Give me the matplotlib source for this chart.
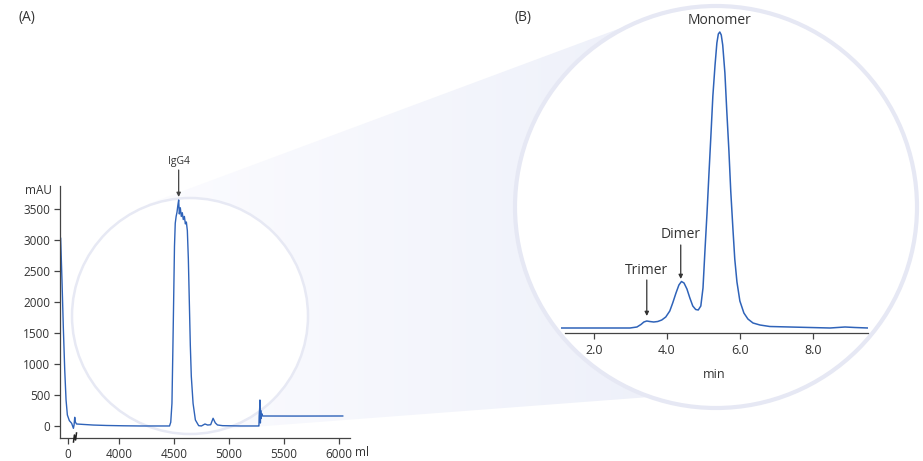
import numpy as np
import matplotlib
matplotlib.use("Agg")
import matplotlib.pyplot as plt
from matplotlib.patches import Circle, Polygon
from matplotlib.lines import Line2D

plt.rcParams['font.family'] = ['Open Sans', 'DejaVu Sans']

W, H = 923, 461
BLUE = '#2f63b9'
TXT = '#333333'

# ---- panel A: capture run (volume in ml, absorbance in mAU) ----
vol_a = [-67, -55, -43, -30, -18, -6, 12, 33, 49, 55, 61,
         3601, 3613, 3674, 3766, 3887, 4040, 4192, 4451,
         4459, 4470, 4481, 4489, 4496, 4504, 4511, 4519, 4527, 4534, 4542,
         4548, 4557, 4566, 4575, 4584, 4594, 4603, 4612, 4621, 4630, 4639,
         4648, 4657, 4673, 4694, 4724, 4749, 4781, 4806, 4833, 4855, 4875,
         4895, 4941, 5105, 5269, 5272, 5274, 5279, 5281, 5285, 5288, 5292,
         5297, 5306, 5600, 6034]
mau_a = [3027, 2355, 1602, 903, 419, 177, 86, 43, -38, 16, 140,
         70, 32, 25, 15, 8, 3, 0, 0,
         0, 60, 365, 1200, 1980, 2900, 3270, 3380, 3450, 3550, 3645,
         3420, 3520, 3380, 3440, 3330, 3380, 3260, 3290, 3150, 2700, 2000,
         1300, 800, 365, 97, 5, 0, 32, 15, 20, 124, 50,
         16, 5, 0, 0, 0, 160, 300, 419, 48, 250, 120,
         200, 161, 160, 161]
xticks_a = [0, 4000, 4500, 5000, 5500, 6000]
yticks_a = [0, 500, 1000, 1500, 2000, 2500, 3000, 3500]

# ---- panel B: analytical SEC (time in min) ----
t_b = [1.10, 2.16, 2.99, 3.18, 3.29, 3.37, 3.45, 3.53, 3.64, 3.75, 3.86,
       3.97, 4.08, 4.16, 4.25, 4.33, 4.40, 4.47, 4.55, 4.63, 4.71, 4.79,
       4.86, 4.93, 4.99, 5.04, 5.10, 5.15, 5.21, 5.26, 5.32, 5.37, 5.41,
       5.45, 5.49, 5.53, 5.59, 5.64, 5.70, 5.75, 5.81, 5.86, 5.92, 6.00,
       6.11, 6.22, 6.36, 6.55, 6.82, 7.37, 7.92, 8.47, 8.88, 9.15, 9.51]
sig_b = [0, 0, 0, 1, 3.5, 6, 7, 6.5, 6, 6.5, 8,
         11, 17, 25, 35, 43, 46.5, 45, 39, 30, 22, 18.5,
         18, 22, 40, 75, 115, 152, 195, 232, 263, 285, 294,
         296, 293, 283, 255, 218, 177, 137, 99, 69, 46, 27,
         15, 9, 5, 3, 1.5, 1, 0.5, 0, 1, 0.5, 0]
xticks_b = [2.0, 4.0, 6.0, 8.0]


def px(x, y):
    return x / W, 1 - y / H


fig = plt.figure(figsize=(W / 100, H / 100), dpi=100)

# background: zoom funnel and circles, in pixel coordinates
bg = fig.add_axes([0, 0, 1, 1], zorder=0)
bg.set_xlim(0, W)
bg.set_ylim(H, 0)
bg.axis('off')

funnel = Polygon([(148, 204), (645, 19), (716, 207), (716, 392), (199, 431)],
                 closed=True, fc='none', ec='none')
bg.add_patch(funnel)
c0 = np.array([252, 252, 255]) / 255
c1 = np.array([236, 239, 249]) / 255
g = np.linspace(0, 1, 256)
grad = (c0[None, :] * (1 - g[:, None]) + c1[None, :] * g[:, None])[None, :, :]
im = bg.imshow(grad, extent=[140, 720, H, 0], aspect='auto', zorder=1)
im.set_clip_path(funnel)
bg.add_patch(Circle((716, 207), 201, fc='white', ec='#e6e8f4', lw=3.0, zorder=2))
bg.add_patch(Circle((190, 316), 118, fc='white', ec='#e7e9f4', lw=1.8, zorder=2))
bg.set_xlim(0, W)
bg.set_ylim(H, 0)

# ---- axes A with a broken volume scale ----
BRK0, BRK1 = 64, 3600


def fwd(v):
    v = np.asarray(v, dtype=float)
    return np.where(v <= BRK0, v, np.where(v < BRK1, BRK0, v - (BRK1 - BRK0)))


def inv(p):
    p = np.asarray(p, dtype=float)
    return np.where(p <= BRK0, p, p + (BRK1 - BRK0))


axA = fig.add_axes([60 / W, (H - 438) / H, 290 / W, 252 / H], zorder=3)
axA.patch.set_alpha(0)
axA.set_xscale('function', functions=(fwd, inv))
axA.plot(vol_a, mau_a, color=BLUE, lw=1.0)
axA.set_xlim(-73, 6100)
axA.set_ylim(-194, 3871)
axA.set_xticks(xticks_a)
axA.set_xticklabels([str(v) for v in xticks_a])
axA.set_yticks(yticks_a)
for s in ['top', 'right']:
    axA.spines[s].set_visible(False)
for s in ['left', 'bottom']:
    axA.spines[s].set_color('#444444')
    axA.spines[s].set_linewidth(0.9)
axA.tick_params(colors='#444444', labelcolor=TXT, labelsize=8.5, length=4,
                width=0.9, pad=3)
axA.annotate('', xy=(4542, 3694), xytext=(4542, 4129), annotation_clip=False,
             arrowprops=dict(arrowstyle='-|>', color='#444444', lw=0.9,
                             mutation_scale=6, shrinkA=0, shrinkB=0))
axA.text(4542, 4274, 'IgG4', ha='center', va='center', fontsize=7.5,
         color=TXT, clip_on=False)

# break mark on the volume axis
zig = [(73.5, 442), (74.4, 435), (75.6, 440), (76.5, 433)]
fig.add_artist(Line2D([px(*p)[0] for p in zig], [px(*p)[1] for p in zig],
                      color='#222222', lw=1.1, transform=fig.transFigure, zorder=5))

fig.text(*px(52, 190), 'mAU', ha='right', va='center', fontsize=8.5, color=TXT)
fig.text(*px(355, 452), 'ml', ha='left', va='center', fontsize=8.5, color=TXT)

# ---- axes B ----
axB = fig.add_axes([561 / W, (H - 333) / H, 307 / W, 313 / H], zorder=3)
axB.patch.set_alpha(0)
axB.plot(t_b, sig_b, color=BLUE, lw=1.1)
axB.set_xlim(1.10, 9.51)
axB.set_ylim(-5, 308)
axB.set_xticks(xticks_b)
axB.set_xticklabels([f'{v:.1f}' for v in xticks_b])
axB.set_yticks([])
for s in ['top', 'right', 'left']:
    axB.spines[s].set_visible(False)
axB.spines['bottom'].set_bounds(1.205, 9.51)
axB.spines['bottom'].set_color('#444444')
axB.spines['bottom'].set_linewidth(0.9)
axB.tick_params(colors='#444444', labelcolor=TXT, labelsize=9, length=4,
                width=0.9, pad=4)
axB.set_xlabel('min', fontsize=9, color=TXT, labelpad=8)

axB.text(5.45, 307, 'Monomer', ha='center', va='center', fontsize=10,
         color=TXT, clip_on=False)
axB.text(4.38, 93, 'Dimer', ha='center', va='center', fontsize=10, color=TXT)
axB.text(3.45, 58, 'Trimer', ha='center', va='center', fontsize=10, color=TXT)
for x0, ytop, ytip in [(4.38, 83, 49), (3.45, 48, 12)]:
    axB.annotate('', xy=(x0, ytip), xytext=(x0, ytop),
                 arrowprops=dict(arrowstyle='-|>', color='#333333', lw=0.9,
                                 mutation_scale=6, shrinkA=0, shrinkB=0))

fig.text(*px(27, 18), '(A)', ha='center', va='center', fontsize=10, color=TXT)
fig.text(*px(523, 18), '(B)', ha='center', va='center', fontsize=10, color=TXT)

fig.savefig('out.png', dpi=100)
